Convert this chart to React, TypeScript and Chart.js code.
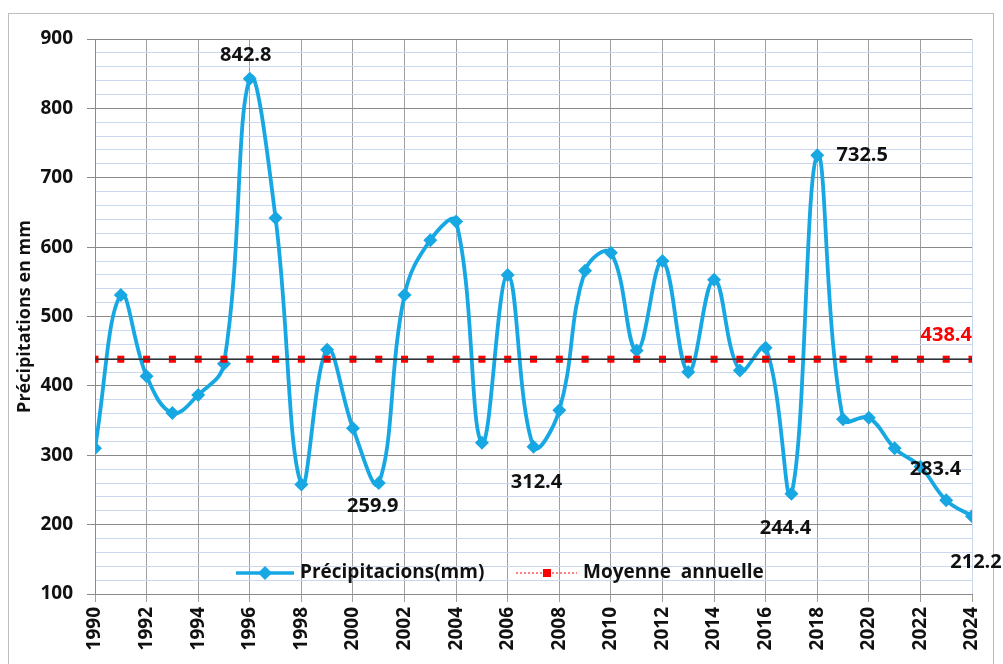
import React, { useEffect, useRef } from "react";
import { Chart, registerables } from "chart.js";
Chart.register(...registerables);

const years: number[] = [
  1990, 1991, 1992, 1993, 1994, 1995, 1996, 1997, 1998, 1999,
  2000, 2001, 2002, 2003, 2004, 2005, 2006, 2007, 2008, 2009,
  2010, 2011, 2012, 2013, 2014, 2015, 2016, 2017, 2018, 2019,
  2020, 2021, 2022, 2023, 2024,
];
const precipitations: number[] = [
  310, 531, 414, 361, 387, 432, 842.8, 642, 258, 452,
  339, 259.9, 531, 610, 637, 318, 560, 312.4, 365, 566,
  592, 451, 580, 420, 553, 422, 455, 244.4, 732.5, 352,
  354, 310, 283.4, 235, 212.2,
];
const meanValue = 438.4;
const labelledYears: number[] = [1996, 2001, 2007, 2017, 2018, 2022, 2024];
const seriesName = "Précipitacions(mm)";
const meanName = "Moyenne  annuelle";
const yTitle = "Précipitations en mm";

const FONT = "'Open Sans', 'DejaVu Sans', sans-serif";
const BLUE = "#17a8e3";
const RED = "#ff0000";

// label placement (pixel offsets relative to the point)
const labelOffsets: Record<number, [number, number]> = {
  1996: [-4, -23],
  2001: [-6, 23],
  2007: [3, 36],
  2017: [-6, 34],
  2018: [45, 0],
  2022: [15, 3],
  2024: [4, 46],
};

export default function App() {
  const ref = useRef<HTMLCanvasElement | null>(null);

  useEffect(() => {
    if (!ref.current) return;
    const precipData = years.map((y, i) => ({ x: y, y: precipitations[i] }));
    const meanData = years.map((y) => ({ x: y, y: meanValue }));

    const labelsPlugin = {
      id: "labelsPlugin",
      afterDatasetsDraw(chart: any) {
        const ctx = chart.ctx;
        const meta = chart.getDatasetMeta(2);
        ctx.save();
        ctx.font = `bold 20px ${FONT}`;
        ctx.fillStyle = "#111";
        ctx.textAlign = "center";
        ctx.textBaseline = "middle";
        labelledYears.forEach((yr) => {
          const i = years.indexOf(yr);
          const el = meta.data[i];
          const [dx, dy] = labelOffsets[yr] || [0, -20];
          ctx.fillText(precipitations[i].toFixed(1), el.x + dx, el.y + dy);
        });
        // mean label
        const ys = chart.scales.y;
        ctx.fillStyle = RED;
        ctx.textAlign = "right";
        ctx.fillText(meanValue.toFixed(1), chart.chartArea.right, ys.getPixelForValue(meanValue) - 24);

        // legend inside plot
        const ly = 573;
        ctx.font = `bold 19px ${FONT}`;
        ctx.strokeStyle = BLUE;
        ctx.lineWidth = 3.5;
        ctx.beginPath();
        ctx.moveTo(236, ly);
        ctx.lineTo(294, ly);
        ctx.stroke();
        ctx.fillStyle = BLUE;
        ctx.beginPath();
        ctx.moveTo(265, ly - 7);
        ctx.lineTo(272, ly);
        ctx.lineTo(265, ly + 7);
        ctx.lineTo(258, ly);
        ctx.closePath();
        ctx.fill();
        ctx.fillStyle = "#111";
        ctx.textAlign = "left";
        ctx.fillText(seriesName, 300, ly);

        ctx.strokeStyle = RED;
        ctx.lineWidth = 1;
        ctx.setLineDash([2, 2]);
        ctx.beginPath();
        ctx.moveTo(516, ly);
        ctx.lineTo(577, ly);
        ctx.stroke();
        ctx.setLineDash([]);
        ctx.fillStyle = RED;
        ctx.fillRect(543, ly - 4, 8, 8);
        ctx.fillStyle = "#111";
        ctx.fillText(meanName, 583, ly);
        ctx.restore();
      },
    };

    const chart = new Chart(ref.current, {
      type: "line",
      data: {
        datasets: [
          {
            label: "line",
            data: meanData,
            borderColor: "#333333",
            borderWidth: 1.5,
            pointRadius: 0,
            tension: 0,
          },
          {
            label: meanName,
            data: meanData,
            showLine: false,
            borderColor: RED,
            backgroundColor: RED,
            pointStyle: "rect",
            pointRadius: 5,
            pointBorderWidth: 0,
          },
          {
            label: seriesName,
            data: precipData,
            borderColor: BLUE,
            backgroundColor: BLUE,
            borderWidth: 3.8,
            tension: 0.4,
            pointStyle: "rectRot",
            pointRadius: 7,
            pointBorderWidth: 0,
          },
        ],
      },
      options: {
        responsive: false,
        animation: false,
        layout: { padding: { left: 0, top: 39, right: 31, bottom: 0 } },
        plugins: {
          legend: { display: false },
          tooltip: { enabled: false },
        },
        scales: {
          x: {
            type: "linear",
            min: 1990,
            max: 2024,
            afterFit(scale: any) {
              scale.height = 70;
            },
            ticks: {
              stepSize: 2,
              autoSkip: false,
              minRotation: 90,
              maxRotation: 90,
              padding: 5,
              color: "#111",
              font: { family: FONT, size: 19, weight: "bold" },
              callback: (v: any) => String(v),
            },
            grid: {
              color: (c: any) => (c.tick && c.tick.value === 2024 ? "#c9d8ee" : "#a0a0a0"),
              tickColor: "#a0a0a0",
              tickLength: 8,
              lineWidth: 1,
            },
            border: { color: "#8a8a8a" },
          },
          y: {
            min: 100,
            max: 900,
            afterFit(scale: any) {
              scale.width = 95;
            },
            ticks: {
              stepSize: 20,
              autoSkip: false,
              padding: 14,
              color: "#111",
              font: { family: FONT, size: 19, weight: "bold" },
              callback: (v: any) => (Math.round(v) % 100 === 0 ? String(v) : ""),
            },
            grid: {
              color: (c: any) => (c.tick && Math.round(c.tick.value) % 100 === 0 ? "#8a8a8a" : "#c9d8ee"),
              tickColor: (c: any) => (c.tick && Math.round(c.tick.value) % 100 === 0 ? "#8a8a8a" : "rgba(0,0,0,0)"),
              tickLength: 8,
              lineWidth: 1,
            },
            border: { color: "#8a8a8a" },
            title: {
              display: true,
              text: yTitle,
              color: "#111",
              font: { family: FONT, size: 18, weight: "bold" },
              padding: { top: 14, bottom: 0 },
            },
          },
        },
      },
      plugins: [labelsPlugin],
    } as any);
    return () => chart.destroy();
  }, []);

  return (
    <div style={{ position: "fixed", left: 0, top: 0, width: 1003, height: 664, overflow: "hidden", background: "#fff" }}>
      <div
        style={{
          position: "absolute",
          left: 8,
          top: 13,
          width: 986,
          height: 700,
          border: "1px solid #bdbdbd",
          boxSizing: "border-box",
        }}
      />
      <canvas
        ref={ref}
        width={1003}
        height={664}
        style={{ position: "absolute", left: 0, top: 0, width: 1003, height: 664 }}
      />
    </div>
  );
}
